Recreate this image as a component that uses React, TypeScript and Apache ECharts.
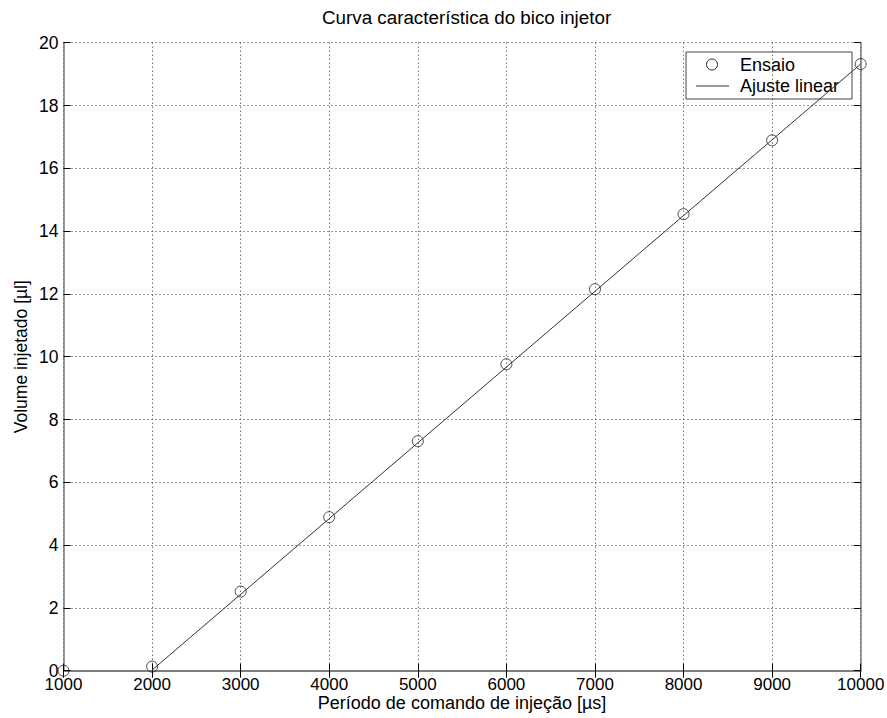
import React, { useEffect, useRef } from "react";
import * as echarts from "echarts";

const title = "Curva característica do bico injetor";
const xName = "Período de comando de injeção [µs]";
const yName = "Volume injetado [µl]";
const seriesNames = ["Ensaio", "Ajuste linear"];
const periods = [1000, 2000, 3000, 4000, 5000, 6000, 7000, 8000, 9000, 10000];
const volumes = [0, 0.13, 2.52, 4.89, 7.31, 9.76, 12.15, 14.54, 16.89, 19.32];
const fitX = [2000, 10000];
const fitY = [0.02, 19.32];

const FONT = "Liberation Sans, Arial, sans-serif";
const AXIS_COLOR = "#777777";

export default function App() {
  const ref = useRef<HTMLDivElement>(null);
  useEffect(() => {
    if (!ref.current) return;
    const chart = echarts.init(ref.current, undefined, { renderer: "svg" });
    const xCommon = {
      type: "value" as const,
      min: 1000,
      max: 10000,
      interval: 1000,
    };
    const yCommon = {
      type: "value" as const,
      min: 0,
      max: 20,
      interval: 2,
    };
    const tickStyle = { show: true, inside: true, length: 7, lineStyle: { color: "#000" } };
    const lx = 686;
    const ly = 52;
    chart.setOption({
      animation: false,
      backgroundColor: "#ffffff",
      title: {
        text: title,
        left: 317,
        top: 3,
        textStyle: { fontFamily: FONT, fontSize: 18.8, fontWeight: "normal", color: "#000" },
      },
      grid: {
        left: 63.5,
        top: 42.7,
        right: 26.3,
        bottom: 47.3,
        containLabel: false,
        outerBoundsMode: "none",
      },
      xAxis: [
        {
          ...xCommon,
          position: "bottom",
          name: xName,
          nameLocation: "middle",
          nameGap: 24,
          nameMoveOverlap: false,
          nameTextStyle: { fontFamily: FONT, fontSize: 18, color: "#000", lineHeight: 16 },
          axisLine: { show: true, lineStyle: { color: AXIS_COLOR, width: 1.5 } },
          axisTick: tickStyle,
          axisLabel: {
            fontFamily: FONT,
            fontSize: 17,
            color: "#000",
            margin: 7,
            lineHeight: 13,
            formatter: (v: number) => String(v),
          },
          splitLine: { show: true, lineStyle: { color: "#333", type: [1, 3], width: 1 } },
        },
        {
          ...xCommon,
          position: "top",
          axisLine: { show: true, lineStyle: { color: AXIS_COLOR, width: 1.5 } },
          axisTick: tickStyle,
          axisLabel: { show: false },
          splitLine: { show: false },
        },
      ],
      yAxis: [
        {
          ...yCommon,
          position: "left",
          name: yName,
          nameLocation: "middle",
          nameGap: 34,
          nameMoveOverlap: false,
          nameTextStyle: { fontFamily: FONT, fontSize: 17.5, color: "#000" },
          axisLine: { show: true, lineStyle: { color: AXIS_COLOR, width: 1.5 } },
          axisTick: tickStyle,
          axisLabel: { fontFamily: FONT, fontSize: 17.5, color: "#000", margin: 5, lineHeight: 14 },
          splitLine: { show: true, lineStyle: { color: "#333", type: [1, 3], width: 1 } },
        },
        {
          ...yCommon,
          position: "right",
          axisLine: { show: true, lineStyle: { color: AXIS_COLOR, width: 1.5 } },
          axisTick: tickStyle,
          axisLabel: { show: false },
          splitLine: { show: false },
        },
      ],
      graphic: [
        {
          type: "group",
          z: 100,
          children: [
            {
              type: "rect",
              shape: { x: lx, y: ly, width: 166, height: 47 },
              style: { fill: "#ffffff", stroke: "#444", lineWidth: 1 },
            },
            {
              type: "circle",
              shape: { cx: lx + 26, cy: ly + 12.5, r: 5.5 },
              style: { fill: "#ffffff", stroke: "#222", lineWidth: 1 },
            },
            {
              type: "line",
              shape: { x1: lx + 10, y1: ly + 34, x2: lx + 43, y2: ly + 34 },
              style: { stroke: "#333", lineWidth: 1 },
            },
            {
              type: "text",
              x: lx + 54,
              y: ly + 12.5,
              style: {
                text: seriesNames[0],
                fontFamily: FONT,
                fontSize: 18,
                fill: "#000",
                verticalAlign: "middle",
              },
            },
            {
              type: "text",
              x: lx + 54,
              y: ly + 33.5,
              style: {
                text: seriesNames[1],
                fontFamily: FONT,
                fontSize: 18,
                fill: "#000",
                verticalAlign: "middle",
              },
            },
          ],
        },
      ],
      series: [
        {
          name: seriesNames[0],
          type: "scatter",
          xAxisIndex: 0,
          yAxisIndex: 0,
          symbol: "circle",
          symbolSize: 11,
          itemStyle: { color: "rgba(255,255,255,0)", borderColor: "#222", borderWidth: 1 },
          data: periods.map((p, i) => [p, volumes[i]]),
          z: 3,
        },
        {
          name: seriesNames[1],
          type: "line",
          xAxisIndex: 0,
          yAxisIndex: 0,
          showSymbol: false,
          symbol: "none",
          lineStyle: { color: "#333", width: 1 },
          itemStyle: { color: "#333" },
          data: fitX.map((x, i) => [x, fitY[i]]),
          z: 2,
        },
      ],
    });
    return () => chart.dispose();
  }, []);
  return (
    <div
      ref={ref}
      style={{ position: "fixed", left: 0, top: 0, width: 887, height: 718 }}
    />
  );
}
